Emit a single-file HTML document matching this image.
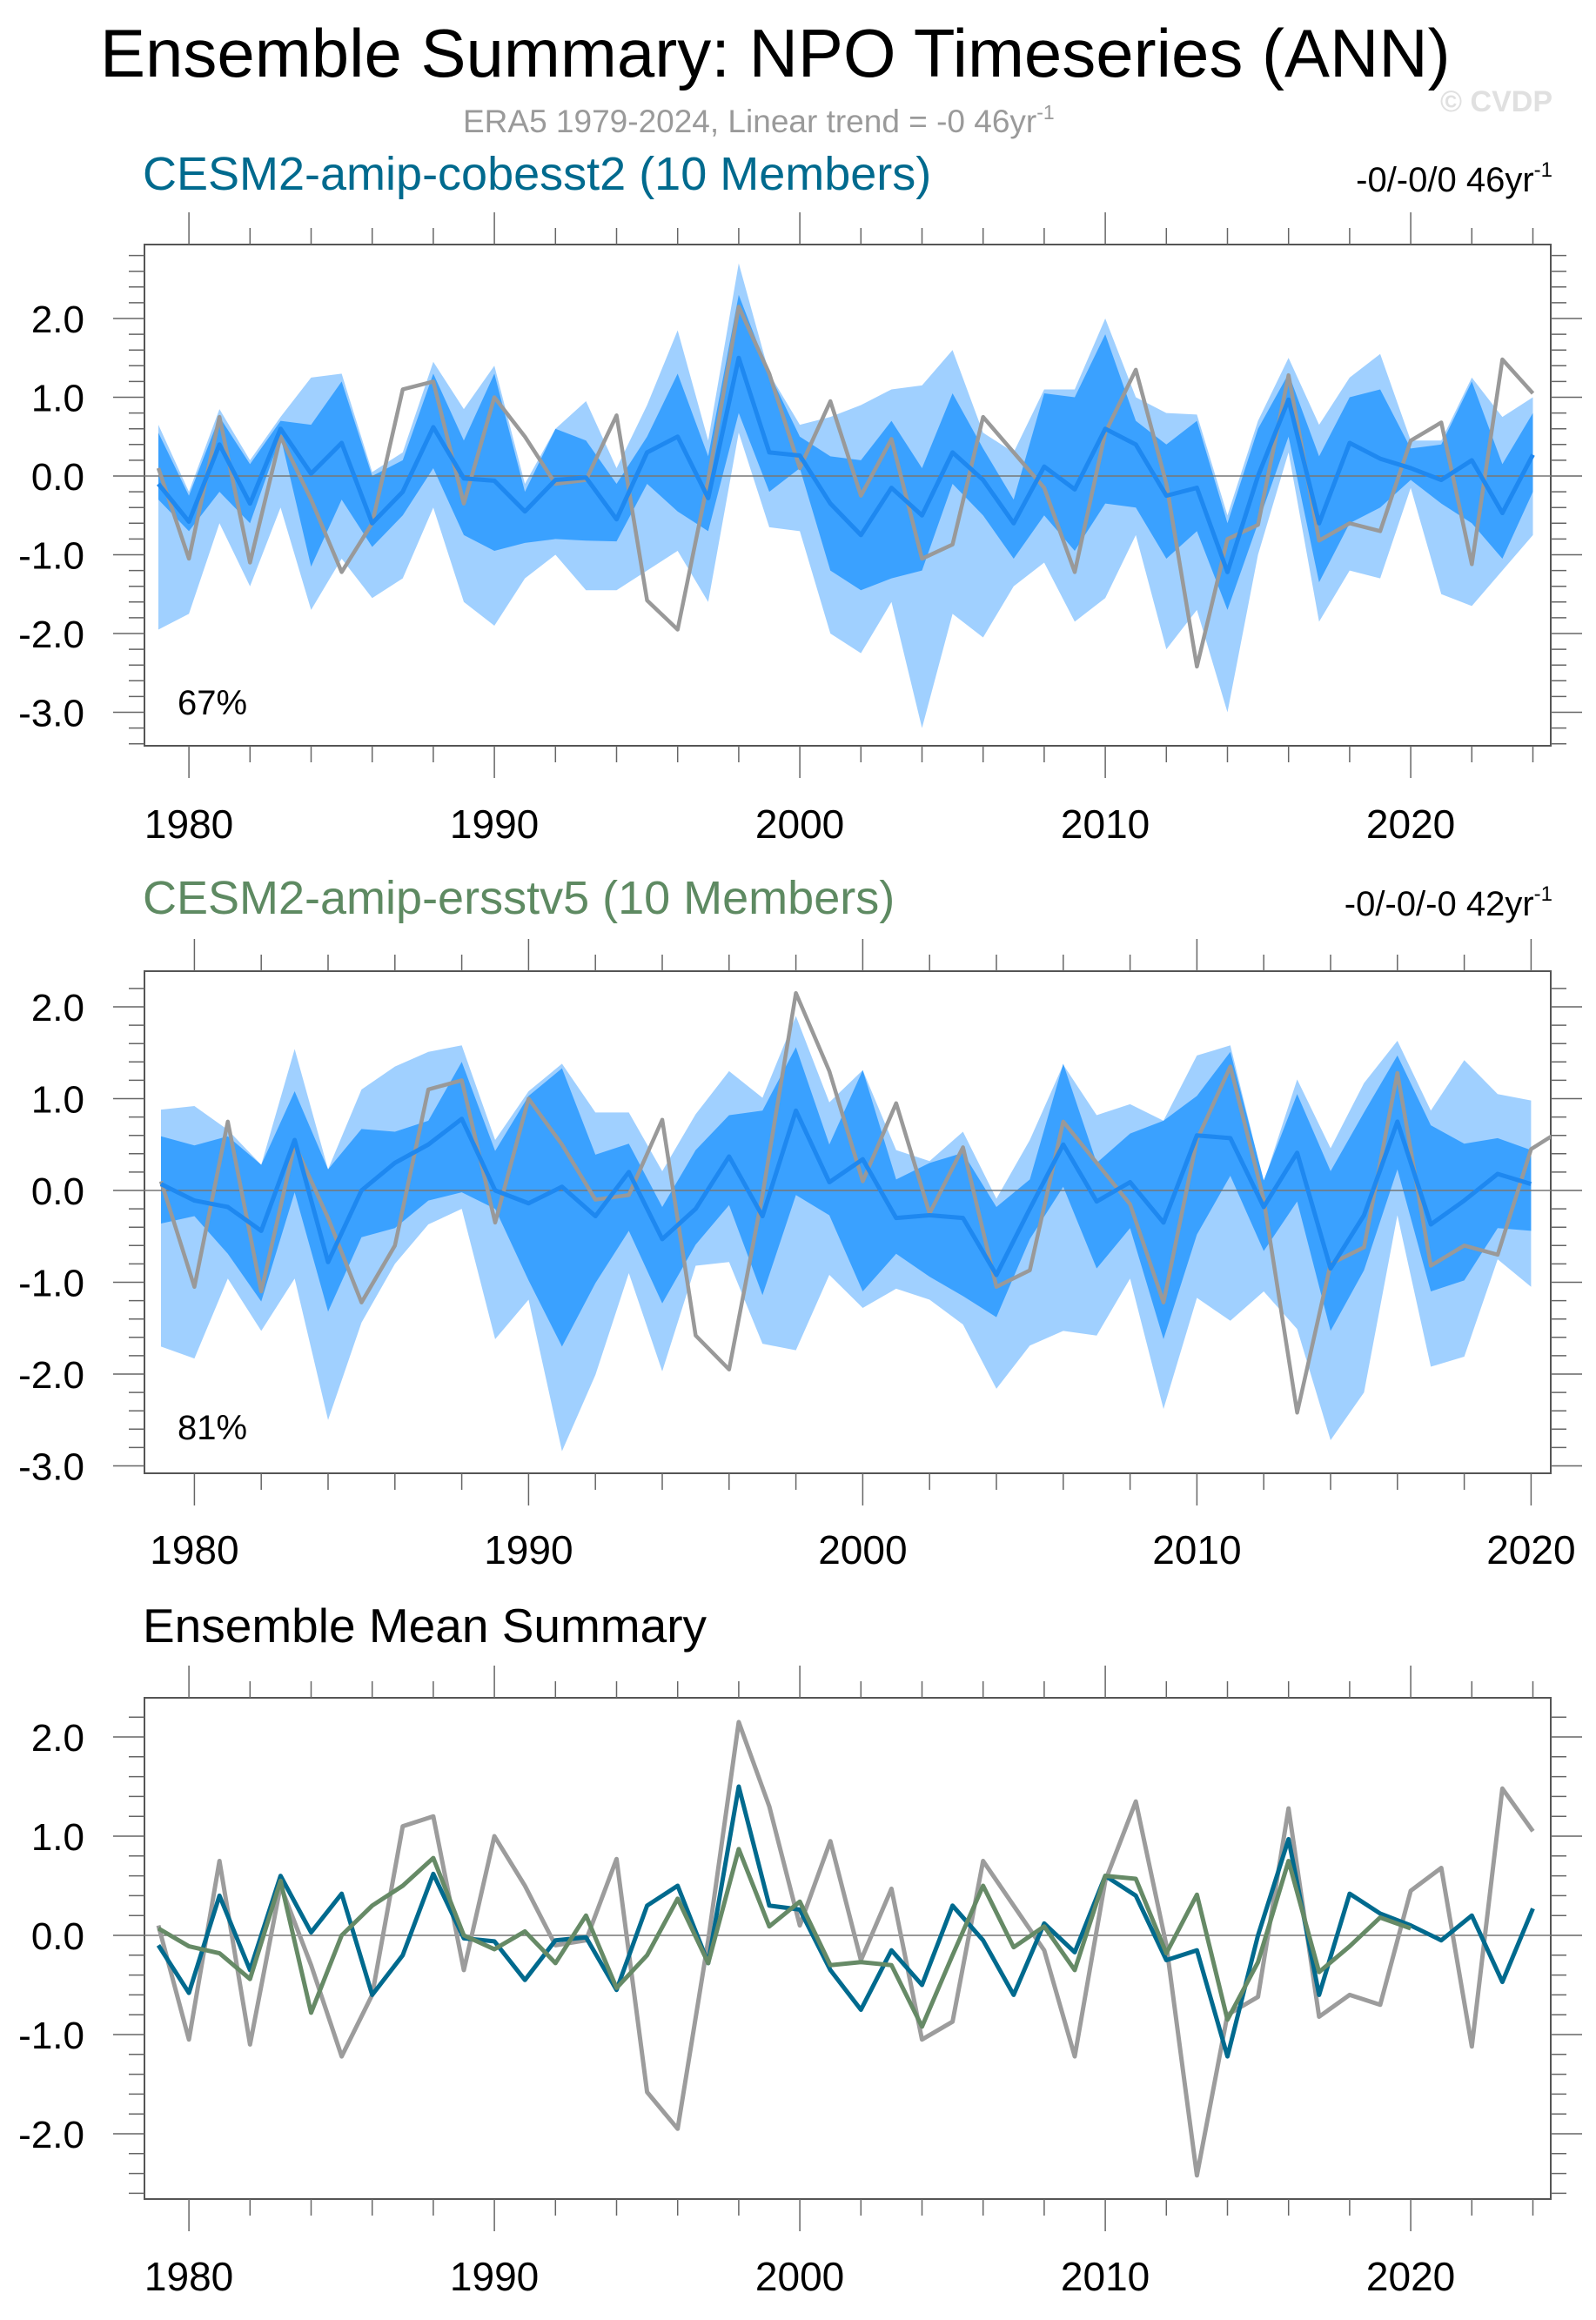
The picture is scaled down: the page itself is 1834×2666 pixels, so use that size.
<!DOCTYPE html>
<html><head><meta charset="utf-8"><style>
html,body{margin:0;padding:0;background:#fff}
svg{display:block;font-family:"Liberation Sans",sans-serif}
</style></head><body>
<svg id="chart" width="1834" height="2666" viewBox="0 0 1834 2666" xmlns="http://www.w3.org/2000/svg">
<text x="115" y="88" font-size="78" fill="#000">Ensemble Summary: NPO Timeseries (ANN)</text>
<text x="1784" y="128" font-size="34" font-weight="bold" fill="#e0e0e0" text-anchor="end">© CVDP</text>
<text x="532" y="152" font-size="37" fill="#9a9a9a">ERA5 1979-2024, Linear trend = -0 46yr<tspan dy="-15" font-size="23">-1</tspan></text>
<text x="164" y="218" font-size="54" fill="#006a8e">CESM2-amip-cobesst2 (10 Members)</text>
<text x="1784" y="220" font-size="40" fill="#000" text-anchor="end">-0/-0/0 46yr<tspan dy="-17" font-size="24">-1</tspan></text>
<text x="164" y="1050" font-size="54" fill="#5e8a62">CESM2-amip-ersstv5 (10 Members)</text>
<text x="1784" y="1052" font-size="40" fill="#000" text-anchor="end">-0/-0/-0 42yr<tspan dy="-17" font-size="24">-1</tspan></text>
<text x="164" y="1887" font-size="55" fill="#000">Ensemble Mean Summary</text>
<defs><clipPath id="clip2"><rect x="166" y="1000" width="1616" height="800"/></clipPath></defs>
</svg>
<script>
// ---- data ----
const obsYears = [1979,1980,1981,1982,1983,1984,1985,1986,1987,1988,1989,1990,1991,1992,1993,1994,1995,1996,1997,1998,1999,2000,2001,2002,2003,2004,2005,2006,2007,2008,2009,2010,2011,2012,2013,2014,2015,2016,2017,2018,2019,2020,2021,2022,2023,2024];
const era5 = [0.1,-1.05,0.75,-1.1,0.5,-0.3,-1.22,-0.6,1.1,1.2,-0.35,1.0,0.5,-0.1,-0.05,0.77,-1.58,-1.95,-0.05,2.15,1.3,0.1,0.95,-0.25,0.47,-1.05,-0.87,0.75,0.3,-0.15,-1.22,0.55,1.35,-0.1,-2.42,-0.8,-0.62,1.28,-0.82,-0.6,-0.7,0.45,0.68,-1.12,1.48,1.05];
const cobMean = [-0.1,-0.58,0.4,-0.35,0.6,0.03,0.42,-0.6,-0.2,0.62,-0.03,-0.06,-0.45,-0.05,-0.02,-0.55,0.3,0.5,-0.28,1.5,0.3,0.26,-0.35,-0.75,-0.15,-0.5,0.3,-0.05,-0.6,0.12,-0.17,0.6,0.4,-0.25,-0.15,-1.22,0.0,0.97,-0.6,0.42,0.22,0.1,-0.05,0.2,-0.47,0.27];
const cobOuterHi = [0.65,-0.2,0.85,0.2,0.75,1.25,1.3,0.05,0.3,1.45,0.85,1.4,-0.1,0.6,0.95,0.1,0.9,1.85,0.45,2.7,1.3,0.65,0.75,0.9,1.1,1.15,1.6,0.55,0.3,1.1,1.1,2.0,1.0,0.8,0.78,-0.5,0.7,1.5,0.65,1.25,1.55,0.45,0.45,1.25,0.75,1.0];
const cobInnerHi = [0.55,-0.25,0.75,0.15,0.7,0.65,1.2,0.0,0.2,1.3,0.45,1.3,-0.2,0.6,0.45,-0.1,0.5,1.3,0.25,2.3,1.3,0.5,0.25,0.2,0.7,0.1,1.05,0.35,-0.3,1.05,1.0,1.8,0.7,0.4,0.7,-0.6,0.6,1.3,0.25,1.0,1.1,0.35,0.4,1.2,0.15,0.8];
const cobInnerLo = [-0.3,-0.7,-0.2,-0.6,0.5,-1.15,-0.3,-0.9,-0.5,0.1,-0.75,-0.95,-0.85,-0.8,-0.82,-0.83,-0.1,-0.45,-0.7,0.8,-0.2,0.1,-1.2,-1.45,-1.3,-1.2,-0.1,-0.5,-1.05,-0.5,-0.95,-0.35,-0.4,-1.05,-0.7,-1.7,-0.6,0.5,-1.35,-0.6,-0.4,-0.05,-0.35,-0.6,-1.05,-0.2];
const cobOuterLo = [-1.95,-1.75,-0.6,-1.4,-0.4,-1.7,-1.05,-1.55,-1.3,-0.4,-1.6,-1.9,-1.3,-1.0,-1.45,-1.45,-1.2,-0.95,-1.6,0.55,-0.65,-0.7,-2.0,-2.25,-1.6,-3.2,-1.75,-2.05,-1.4,-1.1,-1.85,-1.55,-0.75,-2.2,-1.7,-3.0,-1.0,0.3,-1.85,-1.2,-1.3,-0.15,-1.5,-1.65,-1.2,-0.75];
const ersYears = [1979,1980,1981,1982,1983,1984,1985,1986,1987,1988,1989,1990,1991,1992,1993,1994,1995,1996,1997,1998,1999,2000,2001,2002,2003,2004,2005,2006,2007,2008,2009,2010,2011,2012,2013,2014,2015,2016,2017,2018,2019,2020];
const ersMean = [0.07,-0.11,-0.18,-0.44,0.55,-0.78,0.0,0.3,0.5,0.78,0.0,-0.14,0.04,-0.28,0.2,-0.53,-0.2,0.37,-0.28,0.87,0.09,0.34,-0.3,-0.27,-0.3,-0.92,-0.2,0.5,-0.12,0.09,-0.35,0.6,0.57,-0.18,0.41,-0.85,-0.27,0.75,-0.37,-0.11,0.18,0.07];
const ersOuterHi = [0.88,0.92,0.66,0.28,1.54,0.23,1.1,1.35,1.51,1.58,0.55,1.08,1.38,0.85,0.85,0.21,0.83,1.3,1.01,1.9,0.96,1.31,0.44,0.32,0.64,-0.09,0.55,1.37,0.82,0.94,0.76,1.47,1.58,0.09,1.21,0.46,1.17,1.63,0.87,1.42,1.05,0.98];
const ersInnerHi = [0.59,0.49,0.59,0.28,1.08,0.23,0.67,0.64,0.76,1.4,0.43,1.03,1.33,0.39,0.51,-0.18,0.44,0.82,0.87,1.56,0.5,1.31,0.12,0.3,0.41,-0.18,0.12,1.38,0.3,0.62,0.76,1.03,1.51,0.11,1.05,0.21,0.85,1.47,0.71,0.51,0.57,0.44];
const ersInnerLo = [-0.36,-0.28,-0.69,-1.21,-0.02,-1.32,-0.51,-0.41,-0.11,-0.02,-0.2,-0.98,-1.7,-1.01,-0.44,-1.23,-0.59,-0.16,-1.14,-0.05,-0.27,-1.1,-0.69,-0.94,-1.15,-1.38,-0.53,0.04,-0.85,-0.41,-1.62,-0.48,0.16,-0.66,-0.12,-1.53,-0.87,0.23,-1.1,-0.98,-0.41,-0.44];
const ersOuterLo = [-1.7,-1.83,-0.96,-1.53,-0.96,-2.5,-1.44,-0.8,-0.37,-0.2,-1.62,-1.19,-2.84,-2.01,-0.9,-1.97,-0.82,-0.78,-1.67,-1.74,-0.92,-1.28,-1.07,-1.19,-1.46,-2.16,-1.69,-1.53,-1.58,-0.96,-2.38,-1.17,-1.42,-1.1,-1.51,-2.72,-2.2,-0.27,-1.92,-1.81,-0.75,-1.05];
const yTicksA = [2,1,0,-1,-2,-3];
const yTickLabelsA = ["2.0","1.0","0.0","-1.0","-2.0","-3.0"];
const yTicksB = [2,1,0,-1,-2];
const yTickLabelsB = ["2.0","1.0","0.0","-1.0","-2.0"];
const xTickYearsA = [1980,1990,2000,2010,2020];
const pctLabels = ["67%","81%"];

const NS = "http://www.w3.org/2000/svg";
const svg = document.getElementById('chart');
function mk(tag, attrs, parent){const e=document.createElementNS(NS,tag);for(const k in attrs)e.setAttribute(k,attrs[k]);(parent||svg).appendChild(e);return e;}

function panel(p){
  const g = mk('g',{});
  
  
  const X = yr => p.x0 + (yr - p.yr0) * p.dx;
  const Y = v => p.yz - v * p.dy;
  const vMin = (p.y1 - p.yz)/-p.dy, vMax = (p.yz - p.y0)/p.dy;
  const fr = mk('rect',{x:p.fx0,y:p.y0,width:p.fx1-p.fx0,height:p.y1-p.y0,fill:'none',stroke:'#555','stroke-width':2},g);
  
  
  function band(hi, lo, years, color, nm){
    let d='M'+years.map((y,i)=>X(y)+','+Y(hi[i])).join('L');
    for(let i=years.length-1;i>=0;i--) d+='L'+X(years[i])+','+Y(lo[i]);
    const e=mk('path',{d:d+'Z',fill:color},g);
    
    
  }
  if(p.bands){
    band(p.bands[0],p.bands[3],p.years,'#a0d0ff','outer-spread-band');
    band(p.bands[1],p.bands[2],p.years,'#3aa1ff','inner-spread-band');
  }
  const z=mk('line',{x1:p.fx0,x2:p.fx1,y1:Y(0),y2:Y(0),stroke:'#777','stroke-width':1.5},g);
  
  
  for(let yr=1979; yr<=2024; yr++){
    const x=X(yr); if(x<p.fx0-1||x>p.fx1+1) continue;
    const major = yr%10===0, minor = yr%2===0;
    if(!minor) continue;
    const L = major?37:19;
    mk('line',{x1:x,x2:x,y1:p.y0,y2:p.y0-L,stroke:'#666','stroke-width':1.5},g);
    mk('line',{x1:x,x2:x,y1:p.y1,y2:p.y1+L,stroke:'#666','stroke-width':1.5},g);
  }
  for(let k=Math.ceil(vMin*5); k<=Math.floor(vMax*5); k++){
    const v=k/5, y=Y(v), L=(k%5===0)?36:18;
    mk('line',{x1:p.fx0,x2:p.fx0-L,y1:y,y2:y,stroke:'#666','stroke-width':1.5},g);
    mk('line',{x1:p.fx1,x2:p.fx1+L,y1:y,y2:y,stroke:'#666','stroke-width':1.5},g);
  }
  p.yTicks.forEach((v,i)=>{
    const t=mk('text',{x:97,y:Y(v)+16,'font-size':44,'text-anchor':'end',fill:'#000'},g);
    t.textContent=p.yLabels[i];
    
    
  });
  xTickYearsA.forEach(yr=>{
    const t=mk('text',{x:X(yr),y:p.xLabY,'font-size':46,'text-anchor':'middle',fill:'#000'},g);
    t.textContent=String(yr);
    
    
  });
  p.lines.forEach(l=>{
    const e=mk('polyline',{points:l.years.map((y,i)=>X(y)+','+Y(l.vals[i])).join(' '),fill:'none',stroke:l.color,'stroke-width':l.w,'stroke-linejoin':'round'},g);
    if(p.clip) e.setAttribute('clip-path','url(#'+p.clip+')');
    
    
  });
  if(p.pct){
    const t=mk('text',{x:204,y:p.pctY,'font-size':40,fill:'#000'},g);
    t.textContent=p.pct;
    
    
  }
}

panel({name:'panel-cobesst2',x0:182,yr0:1979,dx:35.1,fx0:166,fx1:1782,y0:281,y1:857,yz:547,dy:90.5,
  years:obsYears,bands:[cobOuterHi,cobInnerHi,cobInnerLo,cobOuterLo],yTicks:yTicksA,yLabels:yTickLabelsA,xLabY:963,
  lines:[{years:obsYears,vals:era5,color:'#999',w:4.5,name:'era5-line'},{years:obsYears,vals:cobMean,color:'#1e88f0',w:5,name:'ensemble-mean-line'}],
  pct:pctLabels[0],pctY:821});
panel({name:'panel-ersstv5',x0:185,yr0:1979,dx:38.4,fx0:166,fx1:1782,y0:1116,y1:1693,yz:1368,dy:105.5,clip:'clip2',
  years:ersYears,bands:[ersOuterHi,ersInnerHi,ersInnerLo,ersOuterLo],yTicks:yTicksA,yLabels:yTickLabelsA,xLabY:1797,
  lines:[{years:obsYears,vals:era5,color:'#999',w:4.5,name:'era5-line'},{years:ersYears,vals:ersMean,color:'#1e88f0',w:5,name:'ensemble-mean-line'}],
  pct:pctLabels[1],pctY:1654});
panel({name:'panel-ensemble-means',x0:182,yr0:1979,dx:35.1,fx0:166,fx1:1782,y0:1951,y1:2527,yz:2224,dy:114,
  years:null,bands:null,yTicks:yTicksB,yLabels:yTickLabelsB,xLabY:2632,
  lines:[{years:obsYears,vals:era5,color:'#9c9c9c',w:5,name:'era5-line'},{years:obsYears,vals:cobMean,color:'#006a8e',w:5,name:'cobesst2-mean-line'},{years:ersYears,vals:ersMean,color:'#668a66',w:5,name:'ersstv5-mean-line'}]});
</script>
</body></html>
